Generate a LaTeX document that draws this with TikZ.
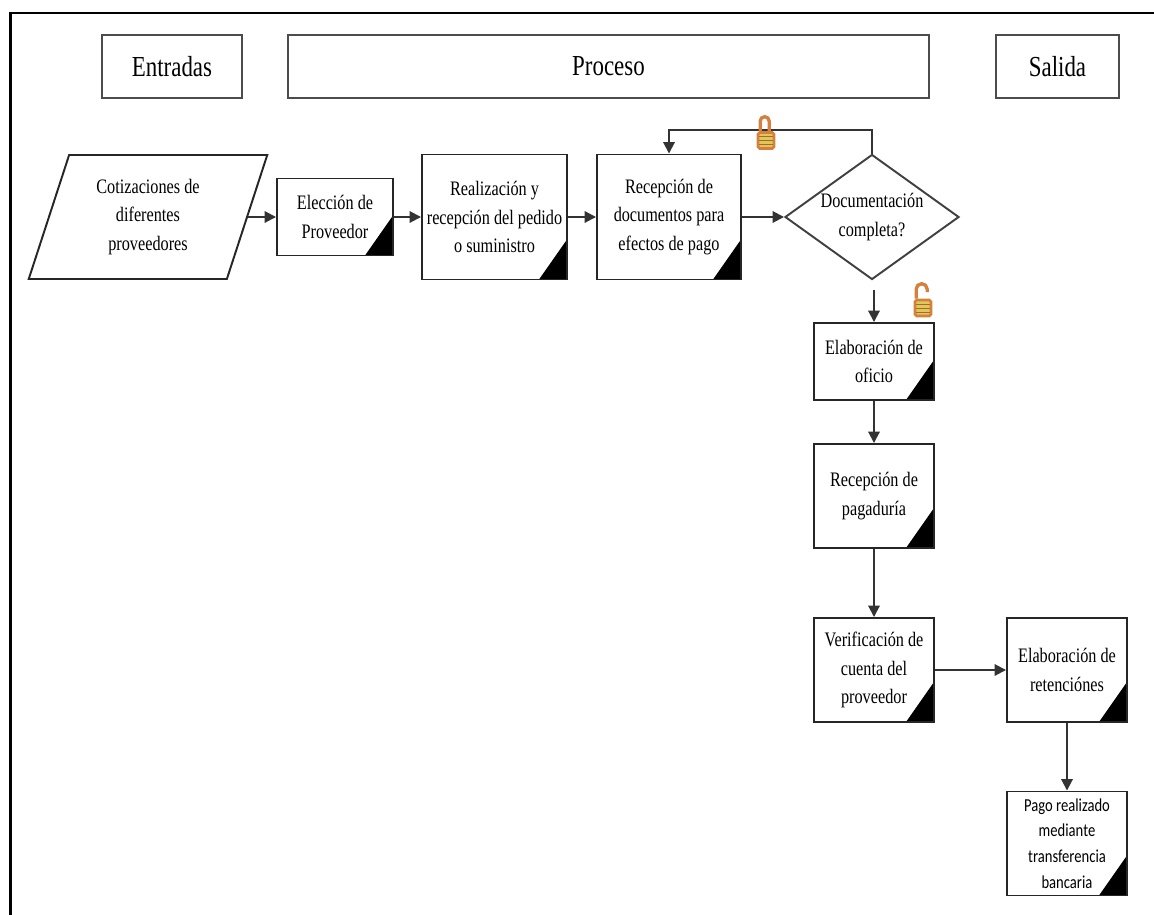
\documentclass[tikz,border=0pt]{standalone}
\usepackage{fontspec}
\setmainfont[FakeStretch=0.79]{Liberation Serif}
\newfontfamily\pagofont[FakeStretch=0.8]{Carlito}
\usetikzlibrary{arrows.meta,shapes.geometric}
\definecolor{lockedge}{RGB}{214,128,62}
\definecolor{lockfill}{RGB}{222,200,90}
\tikzset{
  head/.style={draw=black!70, line width=1.2pt, minimum height=1.26cm, font=\fontsize{16.5}{20}\selectfont},
  proc/.style={draw=black!85, line width=1.1pt, inner sep=0pt, align=center, font=\fontsize{11.7}{16.3}\selectfont,
    path picture={\fill[black] (path picture bounding box.south east) -- ++(-0.56,0) -- ++(0.56,0.8) -- cycle;}},
  lockbody/.style={draw=lockedge, fill=lockfill, line width=1.5pt, rounded corners=1pt, minimum width=0.32cm, minimum height=0.32cm, inner sep=0pt},
  shackle/.style={draw=lockedge, line width=1.9pt}
}
\begin{document}
\begin{tikzpicture}[>={Triangle[length=2.3mm,width=2.3mm]}]
    \useasboundingbox (0,0) rectangle (23.08,-18.3);
    \draw[line width=1.2pt] (0.21,-18.3) -- (0.21,-0.26) -- (23.08,-0.26);
    \node(entradas)[head, minimum width=2.8cm] at (3.44,-1.33) {Entradas};
    \node(proceso)[head, minimum width=12.82cm, right of=entradas, node distance=8.73cm] {Proceso};
    \node(salida)[head, minimum width=2.46cm, right of=proceso, node distance=8.98cm] {Salida};
    \node(cotiz)[draw=black!85, line width=1.1pt, shape=trapezium, trapezium left angle=62, trapezium right angle=118,
      trapezium stretches body, minimum width=4.77cm, minimum height=2.48cm, inner sep=0pt, align=center,
      font=\fontsize{11.7}{16.3}\selectfont, below of=entradas, node distance=3.01cm, xshift=-0.48cm]
      {Cotizaciones de\\diferentes\\proveedores};
    \node(eleccion)[proc, minimum width=2.32cm, minimum height=1.54cm, right of=cotiz, node distance=3.74cm] {Elección de\\Proveedor};
    \node(realiz)[proc, minimum width=2.9cm, minimum height=2.5cm, right of=eleccion, node distance=3.19cm] {Realización y\\recepción del pedido\\o suministro};
    \node(docs)[proc, minimum width=2.88cm, minimum height=2.5cm, right of=realiz, node distance=3.49cm] {Recepción de\\documentos para\\efectos de pago};
    \node(decis)[draw=black!75, line width=1.1pt, shape=diamond, aspect=1.39, minimum width=3.48cm, minimum height=2.5cm, inner sep=0pt, align=center,
      font=\fontsize{11.7}{16.3}\selectfont, right of=docs, node distance=4.06cm] {Documentación\\completa?};
    \node(oficio)[proc, minimum width=2.4cm, minimum height=1.54cm, below of=decis, node distance=2.89cm, xshift=0.04cm] {Elaboración de\\oficio};
    \node(pagad)[proc, minimum width=2.4cm, minimum height=2.08cm, below of=oficio, node distance=2.69cm] {Recepción de\\pagaduría};
    \node(verif)[proc, minimum width=2.4cm, minimum height=2.08cm, below of=pagad, node distance=3.48cm] {Verificación de\\cuenta del\\proveedor};
    \node(retenc)[proc, minimum width=2.4cm, minimum height=2.08cm, right of=verif, node distance=3.86cm] {Elaboración de\\retenciónes};
    \node(pago)[proc, minimum width=2.4cm, minimum height=2.08cm, below of=retenc, node distance=3.47cm,
      font=\pagofont\fontsize{10.4}{14.6}\selectfont] {Pago realizado\\mediante\\transferencia\\bancaria};
    \coordinate[above of=docs, node distance=1.74cm] (vuelta);
    \coordinate[above of=oficio, node distance=1.43cm] (salto);
    \draw[->, line width=1.1pt, black!80] (cotiz.east) -- (eleccion);
    \draw[->, line width=1.1pt, black!80] (eleccion) -- (realiz);
    \draw[->, line width=1.1pt, black!80] (realiz) -- (docs);
    \draw[->, line width=1.1pt, black!80] (docs) -- (decis);
    \draw[->, line width=1.1pt, black!80] (decis.north) |- (vuelta) -- (docs);
    \draw[->, line width=1.1pt, black!80] (salto) -- (oficio);
    \draw[->, line width=1.1pt, black!80] (oficio) -- (pagad);
    \draw[->, line width=1.1pt, black!80] (pagad) -- (verif);
    \draw[->, line width=1.1pt, black!80] (verif) -- (retenc);
    \draw[->, line width=1.1pt, black!80] (retenc) -- (pago);
    % candados
    \node(cerrado)[lockbody] at (15.32,-2.81) {};
    \draw[shackle] (cerrado.north west) ++(0.07,0) -- ++(0,0.2) arc (180:0:0.09) -- ++(0,-0.2);
    \foreach \y in {-0.08,0,0.08} \draw[lockedge!80!black, line width=0.4pt] ([xshift=0.05cm,yshift=\y cm]cerrado.west) -- ([xshift=-0.05cm,yshift=\y cm]cerrado.east);
    \node(abierto)[lockbody] at (18.46,-6.16) {};
    \draw[shackle] (abierto.north west) ++(0.05,0) -- ++(0,0.19) arc (180:0:0.11) -- ++(0,-0.06);
    \foreach \y in {-0.08,0,0.08} \draw[lockedge!80!black, line width=0.4pt] ([xshift=0.05cm,yshift=\y cm]abierto.west) -- ([xshift=-0.05cm,yshift=\y cm]abierto.east);
  \end{tikzpicture}
\end{document}
